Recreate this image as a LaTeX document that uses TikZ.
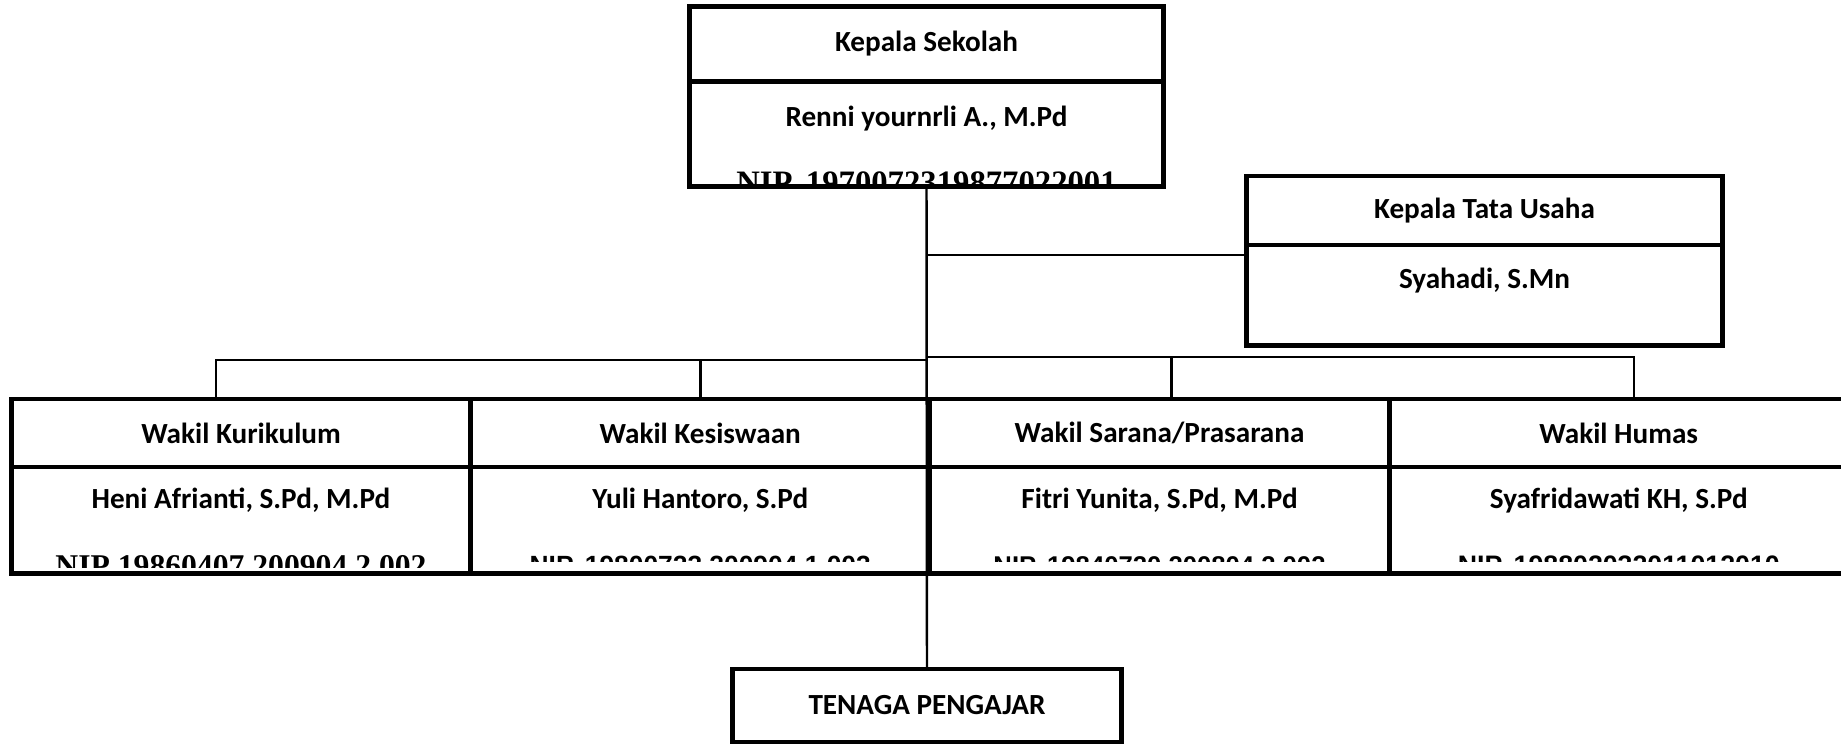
\documentclass[tikz,border=0pt]{standalone}
\usepackage{fontspec}
\setmainfont{Carlito}
\newfontfamily\serifnip{Liberation Serif}
\newfontfamily\sansnip{Liberation Sans}
\usetikzlibrary{positioning}

\tikzset{
  kotak/.style={draw, line width=1.4pt, inner sep=0pt, outer sep=0pt,
    font=\bfseries\fontsize{8.3}{10}\selectfont},
  judul/.style={kotak, minimum width=4.59cm, minimum height=0.68cm},
  isi/.style={kotak, minimum width=4.59cm, minimum height=1.06cm},
  nama/.style={font=\bfseries\fontsize{8.3}{10}\selectfont, inner sep=0pt},
  nip/.style={inner sep=0pt, anchor=base},
  garis/.style={line width=0.7pt},
}

% NIP line of box #1 (baseline shift #2), cut off at #3 above the bottom border
\newcommand{\nipklip}[4]{%
  \begin{scope}
    \clip ([yshift=#3]#1.south west) rectangle (#1.north east);
    \node[nip] (#1-nip) at ([yshift=#2]#1.south) {#4};
  \end{scope}}

\begin{document}
\begin{tikzpicture}[x=0.01cm, y=0.01cm]
  \useasboundingbox (0,0) rectangle (1841,744);

  % kepala sekolah
  \node[judul, minimum width=4.73cm, minimum height=0.75cm] (ksj) at (926.5,700) {Kepala Sekolah};
  \node[isi, minimum width=4.73cm, minimum height=1.05cm, below=0pt of ksj] (ksi) {};
  \node[nama] (ksn) at ([yshift=-0.37cm]ksi.north) {Renni yournrli A., M.Pd};
  \nipklip{ksi}{-0.07cm}{0.03cm}{\serifnip\bfseries\fontsize{9.3}{10}\selectfont NIP. 1970072319877022001}

  % kepala tata usaha
  \node[judul, minimum width=4.75cm, minimum height=0.69cm] (ktuj) at (1484.5,533.5) {Kepala Tata Usaha};
  \node[isi, minimum width=4.75cm, minimum height=1.00cm, below=0pt of ktuj] (ktui) {};
  \node[nama] (ktun) at ([yshift=-0.36cm]ktui.north) {Syahadi, S.Mn};

  % wakil
  \node[judul] (wk1j) at (241,311) {Wakil Kurikulum};
  \node[isi, below=0pt of wk1j] (wk1i) {};
  \node[nama] (wk1n) at ([yshift=-0.33cm]wk1i.north) {Heni Afrianti, S.Pd, M.Pd};
  \nipklip{wk1i}{-0.03cm}{0.06cm}{\serifnip\bfseries\fontsize{9}{10}\selectfont NIP 19860407 200904 2 002}

  \node[judul, right=0pt of wk1j] (wk2j) {Wakil Kesiswaan};
  \node[isi, below=0pt of wk2j] (wk2i) {};
  \node[nama] (wk2n) at ([yshift=-0.33cm]wk2i.north) {Yuli Hantoro, S.Pd};
  \nipklip{wk2i}{-0.01cm}{0.12cm}{\sansnip\bfseries\fontsize{7.5}{8}\selectfont NIP. 19800723 200904 1 003}

  \node[judul, right=0pt of wk2j] (wk3j) {Wakil Sarana/Prasarana};
  \node[isi, below=0pt of wk3j] (wk3i) {};
  \node[nama] (wk3n) at ([yshift=-0.33cm]wk3i.north) {Fitri Yunita, S.Pd, M.Pd};
  \nipklip{wk3i}{-0.01cm}{0.12cm}{\sansnip\bfseries\fontsize{7.3}{8}\selectfont NIP. 19840720 200804 2 002}

  \node[judul, right=0pt of wk3j] (wk4j) {Wakil Humas};
  \node[isi, below=0pt of wk4j] (wk4i) {};
  \node[nama] (wk4n) at ([yshift=-0.33cm]wk4i.north) {Syafridawati KH, S.Pd};
  \nipklip{wk4i}{-0.01cm}{0.12cm}{\sansnip\bfseries\fontsize{7.6}{8}\selectfont NIP. 198802032011012010}

  % tenaga pengajar
  \node[kotak, minimum width=3.88cm, minimum height=0.73cm] (tp) at (927,38.5) {TENAGA PENGAJAR};

  % garis
  \coordinate (busL) at (927,384);
  \coordinate (busR) at (927,387);
  \draw[garis] (ksi.south) -- (tp.north);
  \draw[garis] ([yshift=-0.1cm]ktui.north west) -- ([yshift=-0.1cm]ktui.north west -| ksi.south);
  \draw[garis] ([xshift=-0.25cm]wk1j.north) |- (busL);
  \draw[garis] (wk2j.north) -- (wk2j.north |- busL);
  \draw[garis] ([xshift=0.12cm]wk3j.north) -- ([xshift=0.12cm]wk3j.north |- busR);
  \draw[garis] (busR) -| ([xshift=0.15cm]wk4j.north);
\end{tikzpicture}
\end{document}
